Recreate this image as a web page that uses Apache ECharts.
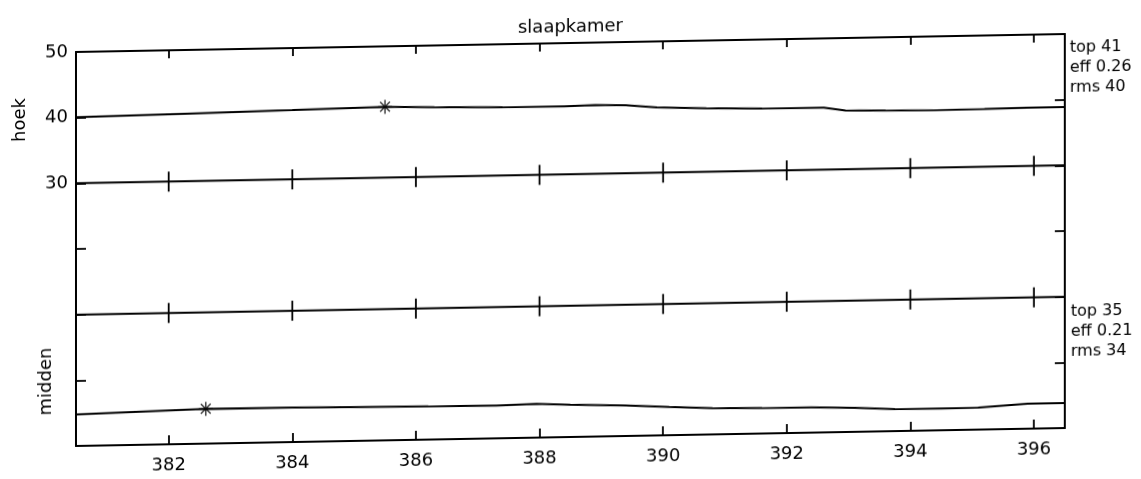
<!DOCTYPE html>
<html>
<head>
<meta charset="utf-8">
<script src="https://cdn.jsdelivr.net/npm/echarts@6/dist/echarts.min.js"></script>
<style>
  html, body { margin: 0; padding: 0; background: #fff; }
  /* the scan is slightly skewed: right side sits higher */
  #chart { width: 1141px; height: 479px; transform: skewY(-1.04deg); transform-origin: 50% 50%; }
</style>
</head>
<body>
<div id="chart"></div>
<script>
const xTicks = [382, 384, 386, 388, 390, 392, 394, 396];
const yLabels = [30, 40, 50];

const hoekX = [380.5, 382.3, 384.0, 385.5, 386.3, 387.4, 388.4, 388.9, 389.4, 389.9, 390.7, 391.6, 392.6, 392.95, 393.6, 394.4, 395.2, 395.9, 396.5];
const hoekY = [40.05, 40.3, 40.55, 40.8, 40.6, 40.4, 40.35, 40.5, 40.35, 39.95, 39.7, 39.5, 39.45, 38.95, 38.85, 38.75, 38.8, 38.9, 38.9];

const middenX = [380.5, 382.6, 384.0, 385.1, 386.2, 387.3, 387.95, 388.5, 389.4, 390.1, 390.8, 391.6, 392.4, 393.1, 393.75, 394.5, 395.1, 395.9, 396.5];
const middenY = [-5.2, -4.7, -4.75, -4.85, -4.95, -5.0, -4.85, -5.1, -5.35, -5.7, -6.0, -6.1, -6.15, -6.35, -6.65, -6.7, -6.65, -6.2, -6.2];

// reference levels drawn with a tick at every x tick
const refLevels = [30, 10];
// '*' markers
const hoekStar = [385.5, 40.8];
const middenStar = [382.6, -4.7];

const xMin = 380.5, xMax = 396.5;
const font = "DejaVu Sans";
const starPath = "path://M-1 -10 L1 -10 L1 10 L-1 10 Z M-10 -1 L10 -1 L10 1 L-10 1 Z M-6.3 -7.7 L7.7 6.3 L6.3 7.7 L-7.7 -6.3 Z M-7.7 6.3 L6.3 -7.7 L7.7 -6.3 L-6.3 7.7 Z";

const zip = (xs, ys) => xs.map((x, i) => [x, ys[i]]);

const refSeries = refLevels.map(lv => ({
  type: "line",
  data: [[xMin, lv]].concat(xTicks.map(t => [t, lv]), [[xMax, lv]]),
  symbol: (v) => (xTicks.indexOf(v[0]) >= 0 ? "rect" : "none"),
  symbolSize: [1.8, 20],
  itemStyle: { color: "#000" },
  lineStyle: { color: "#000", width: 2 },
  silent: true,
  z: 3,
}));

const axisLine = { onZero: false, lineStyle: { color: "#000", width: 2 } };
const tickStyle = { color: "#000", width: 1.8 };

const chart = echarts.init(document.getElementById("chart"));
chart.setOption({
  animation: false,
  backgroundColor: "#fff",
  title: {
    text: "slaapkamer",
    left: "center",
    top: 13,
    textStyle: { fontFamily: font, fontSize: 18, fontWeight: "normal", color: "#000" },
  },
  grid: { left: 76, right: 76, top: 43, bottom: 42 },
  xAxis: [
    {
      type: "value",
      min: xMin,
      max: xMax,
      position: "bottom",
      splitLine: { show: false },
      axisLine: axisLine,
      axisTick: { inside: true, length: 9, customValues: xTicks, lineStyle: tickStyle },
      axisLabel: { customValues: xTicks, margin: 12, color: "#000", fontFamily: font, fontSize: 18 },
    },
    {
      type: "value",
      min: xMin,
      max: xMax,
      position: "top",
      splitLine: { show: false },
      axisLine: axisLine,
      axisTick: { inside: true, length: 8, customValues: xTicks, lineStyle: tickStyle },
      axisLabel: { show: false },
    },
  ],
  yAxis: [
    {
      type: "value",
      min: -10,
      max: 50,
      interval: 10,
      position: "left",
      splitLine: { show: false },
      axisLine: axisLine,
      axisTick: { inside: true, length: 10, lineStyle: tickStyle },
      axisLabel: { customValues: yLabels, margin: 8, color: "#000", fontFamily: font, fontSize: 18 },
    },
    {
      type: "value",
      min: -10,
      max: 50,
      interval: 10,
      position: "right",
      splitLine: { show: false },
      axisLine: axisLine,
      axisTick: { inside: true, length: 10, lineStyle: tickStyle },
      axisLabel: { show: false },
    },
  ],
  graphic: [
    { type: "text", x: 20, y: 110, rotation: Math.PI / 2,
      style: { text: "hoek", align: "center", verticalAlign: "middle", font: "18px " + font, fill: "#000" } },
    { type: "text", x: 46, y: 372, rotation: Math.PI / 2,
      style: { text: "midden", align: "center", verticalAlign: "middle", font: "18px " + font, fill: "#000" } },
    { type: "text", x: 1070, y: 47,
      style: { text: "top 41\neff 0.26\nrms 40", font: "16px " + font, lineHeight: 20, fill: "#000" } },
    { type: "text", x: 1071, y: 311,
      style: { text: "top 35\neff 0.21\nrms 34", font: "16px " + font, lineHeight: 20, fill: "#000" } },
  ],
  series: refSeries.concat([
    {
      name: "hoek",
      type: "line",
      data: zip(hoekX, hoekY),
      showSymbol: false,
      lineStyle: { color: "#000", width: 2 },
      z: 3,
    },
    {
      name: "midden",
      type: "line",
      data: zip(middenX, middenY),
      showSymbol: false,
      lineStyle: { color: "#000", width: 2 },
      z: 3,
    },
    {
      type: "scatter",
      data: [hoekStar, middenStar],
      symbol: starPath,
      symbolSize: 14,
      itemStyle: { color: "#000" },
      z: 4,
    },
  ]),
});
</script>
</body>
</html>
